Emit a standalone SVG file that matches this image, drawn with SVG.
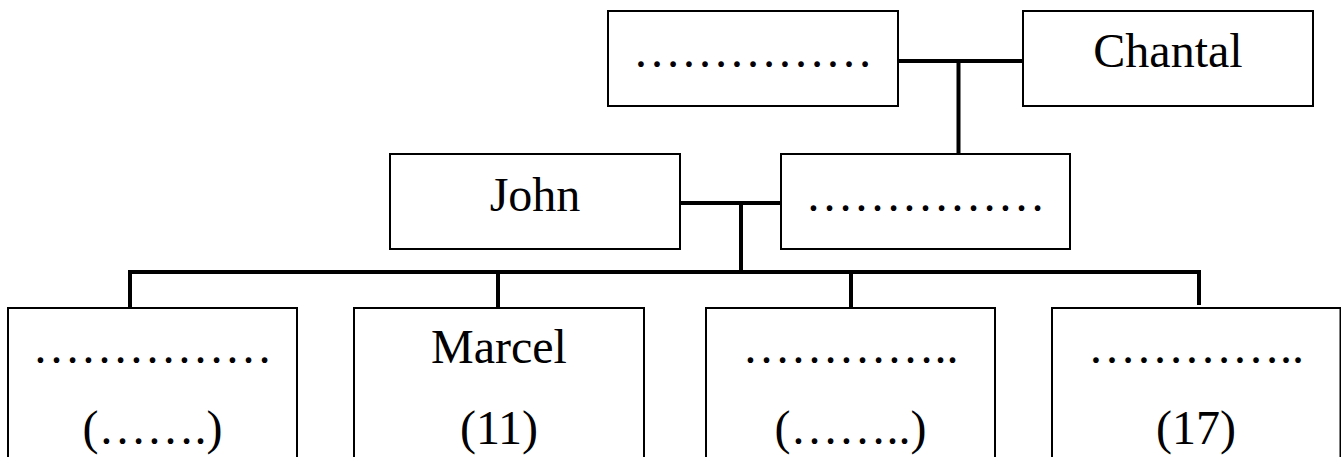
<svg xmlns="http://www.w3.org/2000/svg" width="1341" height="457" viewBox="0 0 1341 457">
<style>
.box{fill:#fff;stroke:#000;stroke-width:2}
.ln{fill:none;stroke:#000;stroke-width:4;stroke-linecap:butt}
text{font-family:"Liberation Serif","Times New Roman",serif;font-size:48px;fill:#000;text-anchor:middle}
</style>
<rect width="1341" height="457" fill="#fff"/>
<g id="connectors">
<path class="ln" d="M898 61H1023M958.5 61V154"/>
<path class="ln" d="M680 203H781M741 203V272"/>
<path class="ln" d="M130 307V272H1199V305"/>
<path class="ln" d="M498 272V307M851 272V307"/>
</g>
<g id="n-top-left"><rect class="box" x="608" y="11" width="290" height="95"/><text x="753" y="67">……………</text></g>
<g id="n-chantal"><rect class="box" x="1023" y="11" width="290" height="95"/><text x="1168" y="67">Chantal</text></g>
<g id="n-john"><rect class="box" x="390" y="154" width="290" height="95"/><text x="535" y="211">John</text></g>
<g id="n-mid-right"><rect class="box" x="781" y="154" width="289" height="95"/><text x="925.5" y="211">……………</text></g>
<g id="n-child1"><rect class="box" x="8" y="308" width="289" height="170"/><text x="152.5" y="363">……………</text><text x="152.5" y="444">(…….)</text></g>
<g id="n-marcel"><rect class="box" x="354" y="308" width="290" height="170"/><text x="499" y="363">Marcel</text><text x="499" y="444">(11)</text></g>
<g id="n-child3"><rect class="box" x="706" y="308" width="289" height="170"/><text x="850.5" y="363">…………..</text><text x="850.5" y="444">(……..)</text></g>
<g id="n-child4"><rect class="box" x="1052" y="308" width="288.5" height="170"/><text x="1196" y="363">…………..</text><text x="1196" y="444">(17)</text></g>
</svg>
